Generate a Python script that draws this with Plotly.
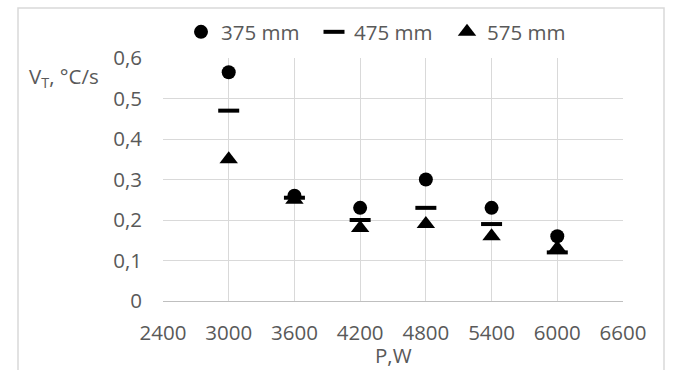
import plotly.graph_objects as go

power = [3000, 3600, 4200, 4800, 5400, 6000]
v_375 = [0.565, 0.26, 0.23, 0.30, 0.23, 0.16]
v_475 = [0.47, 0.255, 0.20, 0.23, 0.19, 0.12]
v_575 = [0.35, 0.25, 0.18, 0.19, 0.16, 0.13]
series_names = ["375 mm", "475 mm", "575 mm"]
x_ticks = [2400, 3000, 3600, 4200, 4800, 5400, 6000, 6600]
x_ticktext = ["2400", "3000", "3600", "4200", "4800", "5400", "6000", "6600"]
y_ticks = [0, 0.1, 0.2, 0.3, 0.4, 0.5, 0.6]
y_ticktext = ["0", "0,1", "0,2", "0,3", "0,4", "0,5", "0,6"]

W, H = 673, 370
L, R, T, B = 163, 50, 58, 69
pw, ph = W - L - R, H - T - B

def px(x):
    return (x - L) / pw

def py(y):
    return (H - B - y) / ph

FONT = "Open Sans"
TXT = "#595959"
GRID = "#d9d9d9"
FS = 20.5

fig = go.Figure()
fig.add_trace(go.Scatter(x=power, y=v_375, mode="markers", name=series_names[0],
                         marker=dict(symbol="circle", size=14, color="black")))
fig.add_trace(go.Scatter(x=power, y=v_475, mode="markers", name=series_names[1],
                         marker=dict(symbol="line-ew", size=15, color="black",
                                     line=dict(width=4, color="black"))))
fig.add_trace(go.Scatter(x=power, y=v_575, mode="markers", name=series_names[2],
                         marker=dict(symbol="triangle-up", size=16, color="black")))

fig.update_layout(
    width=W, height=H,
    margin=dict(l=L, r=R, t=T, b=B, pad=0),
    paper_bgcolor="white", plot_bgcolor="white",
    font=dict(family=FONT, size=FS, color=TXT),
    showlegend=True,
    legend=dict(orientation="h", x=px(181), y=py(32), xanchor="left", yanchor="middle",
                entrywidth=88, itemwidth=30, font=dict(size=FS, color=TXT),
                bgcolor="rgba(0,0,0,0)", tracegroupgap=0),
    xaxis=dict(range=[2400, 6600], tickvals=x_ticks, ticktext=x_ticktext,
               showgrid=True, gridcolor=GRID, gridwidth=1,
               showline=True, linecolor="#bfbfbf", linewidth=1,
               zeroline=False, ticks="", ticklabelstandoff=13, fixedrange=True),
    yaxis=dict(range=[0, 0.6], tickvals=y_ticks, ticktext=y_ticktext,
               showgrid=True, gridcolor=GRID, gridwidth=1,
               showline=False, zeroline=False, ticks="", ticklabelstandoff=20,
               fixedrange=True),
    shapes=[dict(type="rect", xref="paper", yref="paper",
                 x0=px(18), x1=px(664), y0=py(376), y1=py(8),
                 line=dict(color=GRID, width=1.5), fillcolor="rgba(0,0,0,0)",
                 layer="below")],
    annotations=[
        dict(text="P,W", xref="paper", yref="paper", x=0.5, y=py(355),
             xanchor="center", yanchor="middle", showarrow=False,
             font=dict(size=FS, color=TXT)),
        dict(text="V<sub>T</sub>, °C/s", xref="paper", yref="paper", x=px(27), y=py(77),
             xanchor="left", yanchor="middle", showarrow=False,
             font=dict(size=FS, color=TXT)),
    ],
)

fig.write_html("out.html")
